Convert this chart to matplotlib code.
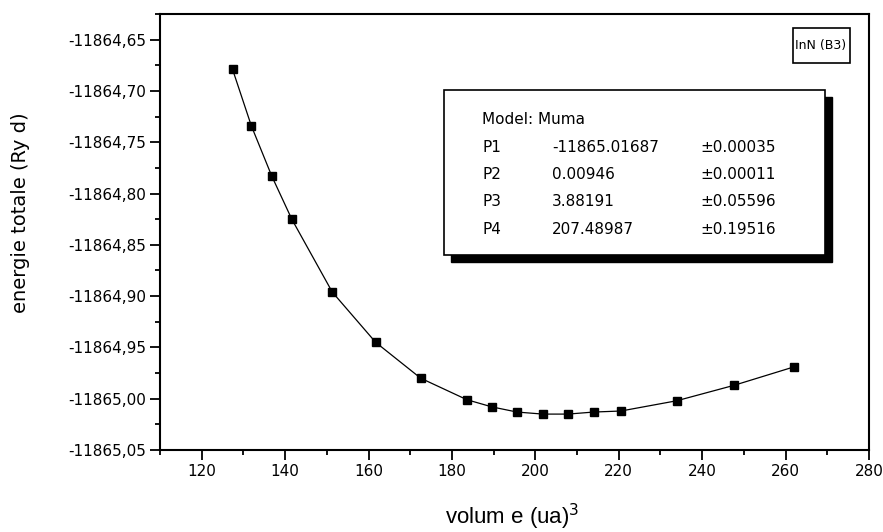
import matplotlib
matplotlib.use("Agg")
import matplotlib.pyplot as plt
from matplotlib.patches import Rectangle
from matplotlib.ticker import MultipleLocator, FuncFormatter

# volume (ua)^3 and total energy (Ryd)
volume = [127.4, 131.9, 136.8, 141.6, 151.3, 161.7, 172.5, 183.6, 189.6,
          195.6, 201.8, 207.8, 214.0, 220.5, 233.9, 247.6, 262.0]
energie = [-11864.679, -11864.734, -11864.783, -11864.825, -11864.896,
           -11864.945, -11864.980, -11865.001, -11865.008, -11865.013,
           -11865.015, -11865.015, -11865.013, -11865.012, -11865.002,
           -11864.987, -11864.969]

# fit parameters shown in the box
param_names = ["P1", "P2", "P3", "P4"]
param_values = ["-11865.01687", "0.00946", "3.88191", "207.48987"]
param_errors = ["\u00b10.00035", "\u00b10.00011", "\u00b10.05596", "\u00b10.19516"]

W, H = 883, 532
fig = plt.figure(figsize=(W / 100, H / 100), dpi=100)
ax = fig.add_axes([160 / W, 1 - 450 / H, 709 / W, 436 / H])


def px(x, y):
    # pixel position (from top left) -> figure fraction
    return x / W, 1 - y / H


ax.plot(volume, energie, color="black", linewidth=0.9, marker="s",
        markersize=5.8, markerfacecolor="black", markeredgecolor="black")

ax.set_xlim(110, 280)
ax.set_ylim(-11865.05, -11864.625)
ax.xaxis.set_major_locator(MultipleLocator(20))
ax.xaxis.set_minor_locator(MultipleLocator(10))
ax.yaxis.set_major_locator(MultipleLocator(0.05))
ax.yaxis.set_minor_locator(MultipleLocator(0.025))
ax.yaxis.set_major_formatter(FuncFormatter(lambda v, p: f"{v:.2f}".replace(".", ",")))
ax.xaxis.set_major_formatter(FuncFormatter(lambda v, p: f"{v:.0f}"))

for s in ax.spines.values():
    s.set_linewidth(1.5)
ax.tick_params(which="major", direction="out", length=7, width=1.3,
               labelsize=11, pad=3, top=False, right=False)
ax.tick_params(which="minor", direction="out", length=3.5, width=1.3,
               top=False, right=False)

fig.text(*px(21, 213), "energie totale (Ry d)", rotation=90, ha="center",
         va="center", fontsize=14, family="DejaVu Sans")
fig.text(*px(512, 517), "volum e (ua)$^3$", ha="center", va="center",
         fontsize=16, family="Liberation Sans")

# InN (B3) label box
fig.text(*px(821, 46), "InN (B3)", ha="center", va="center", fontsize=9)
fig.patches.append(Rectangle(px(793, 63), 57 / W, 35 / H, transform=fig.transFigure,
                             facecolor="none", edgecolor="black", linewidth=1.2))

# fit results box with shadow
fig.patches.append(Rectangle(px(451, 262), 381 / W, 165 / H, transform=fig.transFigure,
                             facecolor="black", edgecolor="black", zorder=5))
fig.patches.append(Rectangle(px(444, 255), 381 / W, 165 / H, transform=fig.transFigure,
                             facecolor="white", edgecolor="black", linewidth=1.2, zorder=6))
fig.text(*px(482, 120), "Model: Muma", ha="left", va="center", fontsize=11, zorder=7)
rows_y = [147, 174, 202, 230]
for name, val, err, yy in zip(param_names, param_values, param_errors, rows_y):
    fig.text(*px(482, yy), name, ha="left", va="center", fontsize=11, zorder=7)
    fig.text(*px(552, yy), val, ha="left", va="center", fontsize=11, zorder=7)
    fig.text(*px(700, yy), err, ha="left", va="center", fontsize=11, zorder=7)

fig.savefig("out.png", dpi=100)
